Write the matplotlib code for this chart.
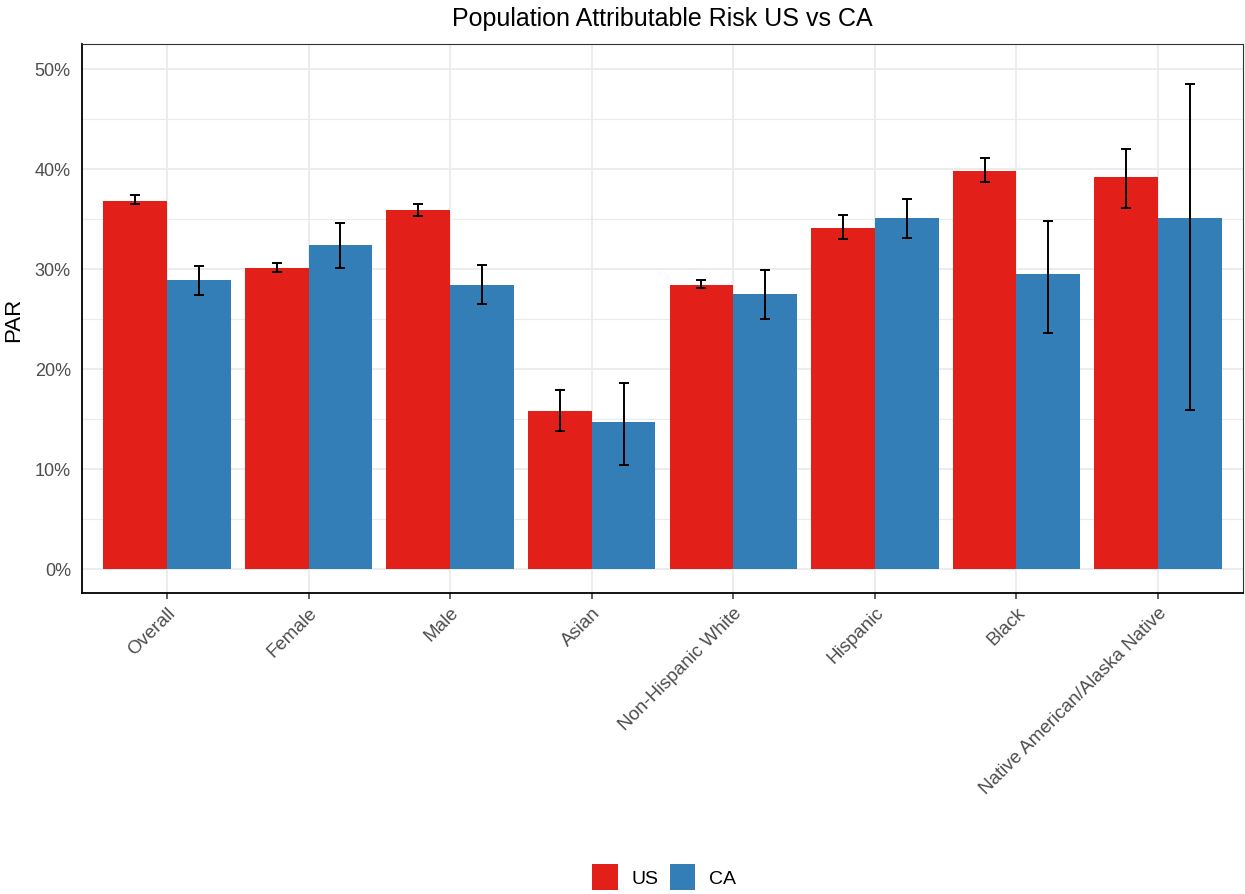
import numpy as np
import matplotlib.pyplot as plt
from matplotlib.patches import Patch
from matplotlib.ticker import MultipleLocator, FuncFormatter

plt.rcParams['font.family'] = ['Liberation Sans', 'DejaVu Sans']

# data (percent)
groups = ["Overall", "Female", "Male", "Asian", "Non-Hispanic White",
          "Hispanic", "Black", "Native American/Alaska Native"]
us_par = [36.85, 30.15, 35.95, 15.8, 28.45, 34.15, 39.8, 39.2]
us_lo = [36.5, 29.7, 35.3, 13.8, 28.1, 33.0, 38.7, 36.1]
us_hi = [37.4, 30.6, 36.55, 17.9, 28.9, 35.4, 41.1, 42.0]
ca_par = [28.9, 32.4, 28.4, 14.7, 27.5, 35.1, 29.5, 35.1]
ca_lo = [27.4, 30.1, 26.5, 10.4, 25.0, 33.1, 23.6, 15.9]
ca_hi = [30.3, 34.6, 30.4, 18.6, 29.9, 37.0, 34.8, 48.5]

red = "#E31F1A"
blue = "#337EB7"

fig = plt.figure(figsize=(12.45, 8.95), dpi=100)
ax = fig.add_axes([82 / 1245, 1 - 594 / 895, (1243 - 82) / 1245, (594 - 45) / 895])

x = np.arange(len(groups))
w = 0.45
ax.bar(x - w / 2, us_par, width=w, color=red, zorder=2)
ax.bar(x + w / 2, ca_par, width=w, color=blue, zorder=2)

for xs, v, lo, hi in [(x - w / 2, us_par, us_lo, us_hi), (x + w / 2, ca_par, ca_lo, ca_hi)]:
    v = np.array(v)
    yerr = [v - np.array(lo), np.array(hi) - v]
    ax.errorbar(xs, v, yerr=yerr, fmt="none", ecolor="black", elinewidth=1.4,
                capsize=3.5, capthick=1.4, zorder=3)

ax.set_xlim(-0.6, len(groups) - 0.4)
ax.set_ylim(-2.4, 52.5)
ax.yaxis.set_major_locator(MultipleLocator(10))
ax.yaxis.set_minor_locator(MultipleLocator(5))
ax.yaxis.set_major_formatter(FuncFormatter(lambda v, p: f"{v:.0f}%"))
ax.set_xticks(x)
ax.set_xticklabels(groups, rotation=45, ha="right", rotation_mode="anchor")

ax.grid(which="major", color="#EBEBEB", linewidth=1.3, zorder=0)
ax.grid(which="minor", axis="y", color="#EBEBEB", linewidth=0.8, zorder=0)
ax.set_axisbelow(True)

ax.tick_params(axis="both", which="major", labelsize=13, labelcolor="#4D4D4D",
               color="#333333", length=4.5, width=1.1)
ax.tick_params(axis="x", labelsize=13.5, pad=3)
ax.tick_params(axis="y", which="minor", length=0)
ax.tick_params(axis="y", length=0, pad=8)

for s in ["top", "right"]:
    ax.spines[s].set_color("#333333")
    ax.spines[s].set_linewidth(0.8)
for s in ["left", "bottom"]:
    ax.spines[s].set_color("black")
    ax.spines[s].set_linewidth(1.3)

ax.set_ylabel("PAR", fontsize=16, labelpad=8)
fig.text((82 + 1243) / 2 / 1245, 1 - 19 / 895, "Population Attributable Risk US vs CA",
         ha="center", va="center", fontsize=18)

handles = [Patch(facecolor=red, label="US"), Patch(facecolor=blue, label="CA")]
fig.legend(handles=handles, loc="center", bbox_to_anchor=(664 / 1245, 1 - 878 / 895), ncol=2,
           frameon=False, fontsize=14, handlelength=1.3, handleheight=1.7,
           columnspacing=0.6, handletextpad=0.7)

fig.savefig("out.png", dpi=100)
